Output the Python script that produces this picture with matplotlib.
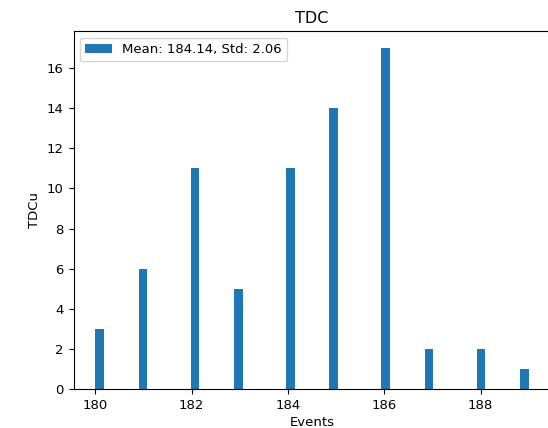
import numpy as np
import matplotlib
matplotlib.use("Agg")
import matplotlib.pyplot as plt

# TDC readings and how many events gave each
tdc_values = [180, 181, 182, 183, 184, 185, 186, 187, 188, 189]
tdc_counts = [3, 6, 11, 5, 11, 14, 17, 2, 2, 1]

events = np.repeat(tdc_values, tdc_counts)
mean = events.mean()
std = events.std()

plt.rcParams["font.size"] = 9.5

fig = plt.figure(figsize=(5.48, 4.28), dpi=100)
# the original picture is cut off on the right, past the right spine
ax = fig.add_axes([0.1343, 0.0911, 0.8703, 0.8364])

ax.hist(events, bins=50, label=f"Mean: {mean:.2f}, Std: {std:.2f}")

ax.set_title("TDC", fontsize=11.5)
ax.set_xlabel("Events", labelpad=3)
ax.set_ylabel("TDCu")
ax.legend(loc="upper left")

fig.savefig("out.png", dpi=100)
plt.close(fig)
